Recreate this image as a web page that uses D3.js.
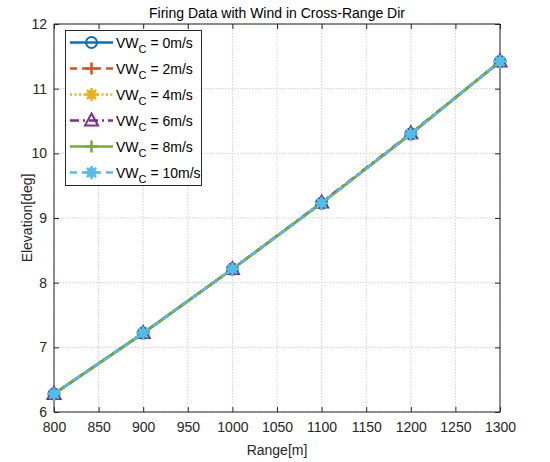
<!DOCTYPE html>
<html><head><meta charset="utf-8">
<script src="https://cdn.jsdelivr.net/npm/d3@7"></script>
<style>body{margin:0;background:#fff}svg{display:block;font-family:"Liberation Sans",Arial,sans-serif}</style>
</head><body>
<svg id="c" width="550" height="462"></svg>
<script>
const ranges = [800, 900, 1000, 1100, 1200, 1300];
const windLabels = ["0", "2", "4", "6", "8", "10"];
const elev0 = [6.28, 7.22, 8.21, 9.23, 10.30, 11.42];
const elev2 = [6.28, 7.22, 8.21, 9.23, 10.30, 11.42];
const elev4 = [6.28, 7.22, 8.21, 9.23, 10.30, 11.42];
const elev6 = [6.28, 7.22, 8.21, 9.24, 10.31, 11.42];
const elev8 = [6.28, 7.22, 8.21, 9.23, 10.30, 11.42];
const elev10 = [6.28, 7.22, 8.21, 9.23, 10.30, 11.42];
const xTicks = [800,850,900,950,1000,1050,1100,1150,1200,1250,1300];
const yTicks = [6,7,8,9,10,11,12];

const series = [
 {vals: elev0, color:"#0072BD", dash:null, marker:"circle"},
 {vals: elev2, color:"#D95319", dash:"7,5", marker:"plus"},
 {vals: elev4, color:"#EDB120", dash:"2,2.5", marker:"star"},
 {vals: elev6, color:"#7E2F8E", dash:"9,4,2,4", marker:"triangle"},
 {vals: elev8, color:"#77AC30", dash:null, marker:"plus"},
 {vals: elev10, color:"#4DBEEE", dash:"7,5", marker:"starfill"},
];

const svg = d3.select("#c");
const L=54, R=500, T=24, B=412;
const x = d3.scaleLinear().domain([800,1300]).range([L,R]);
const y = d3.scaleLinear().domain([6,12]).range([B,T]);

// grid
const g = svg.append("g");
xTicks.forEach(t=>g.append("line").attr("x1",x(t)).attr("x2",x(t)).attr("y1",T).attr("y2",B)
  .attr("stroke","#d0d0d0").attr("stroke-width",1).attr("stroke-dasharray","1.5,1.5"));
yTicks.forEach(t=>g.append("line").attr("x1",L).attr("x2",R).attr("y1",y(t)).attr("y2",y(t))
  .attr("stroke","#d0d0d0").attr("stroke-width",1).attr("stroke-dasharray","1.5,1.5"));

// axes
const fs = "14px";
const xa = svg.append("g").attr("transform",`translate(0,${B})`)
  .call(d3.axisBottom(x).tickValues(xTicks).tickSize(-5).tickPadding(10).tickFormat(d3.format("d")));
const xt = svg.append("g").attr("transform",`translate(0,${T})`)
  .call(d3.axisTop(x).tickValues(xTicks).tickSize(-5).tickFormat(""));
const ya = svg.append("g").attr("transform",`translate(${L},0)`)
  .call(d3.axisLeft(y).tickValues(yTicks).tickSize(-5).tickPadding(7).tickFormat(d3.format("d")));
const yr = svg.append("g").attr("transform",`translate(${R},0)`)
  .call(d3.axisRight(y).tickValues(yTicks).tickSize(-5).tickFormat(""));
[xa,xt,ya,yr].forEach(a=>{
  a.selectAll("path").attr("stroke","#262626").attr("stroke-width",1);
  a.selectAll("line").attr("stroke","#262626");
  a.selectAll("text").attr("fill","#262626").style("font-size",fs).style("font-family","'Liberation Sans',Arial,sans-serif");
});
xa.selectAll("path").attr("d",`M${L},0H${R}`);
xt.selectAll("path").attr("d",`M${L},0H${R}`);
ya.selectAll("path").attr("d",`M0,${T}V${B}`);
yr.selectAll("path").attr("d",`M0,${T}V${B}`);

// labels
svg.append("text").attr("x",277).attr("y",18).attr("text-anchor","middle")
  .style("font-size","14px").attr("fill","#000").text("Firing Data with Wind in Cross-Range Dir");
svg.append("text").attr("x",277).attr("y",455).attr("text-anchor","middle")
  .style("font-size","14px").attr("fill","#262626").text("Range[m]");
svg.append("text").attr("transform",`translate(32,${(T+B)/2}) rotate(-90)`).attr("text-anchor","middle")
  .style("font-size","14px").attr("fill","#262626").text("Elevation[deg]");

function drawMarker(sel, type, color, cx, cy){
  const gg = sel.append("g").attr("transform",`translate(${cx},${cy})`);
  if(type==="circle"){
    gg.append("circle").attr("r",5.5).attr("fill","none").attr("stroke",color).attr("stroke-width",2);
  } else if(type==="plus"){
    gg.append("path").attr("d","M-6,0H6M0,-6V6").attr("stroke",color).attr("stroke-width",2.5);
  } else if(type==="star" || type==="starfill"){
    gg.append("circle").attr("r",4.5).attr("fill",color);
    gg.append("path").attr("d","M-6.5,0H6.5M0,-6.5V6.5M-4.6,-4.6L4.6,4.6M-4.6,4.6L4.6,-4.6").attr("stroke",color).attr("stroke-width",2.5);
  } else if(type==="triangle"){
    gg.append("path").attr("d","M0,-7L6.5,5H-6.5Z").attr("fill","none").attr("stroke",color).attr("stroke-width",2);
  }
}

const line = d3.line().x((d,i)=>x(ranges[i])).y(d=>y(d));
series.forEach(s=>{
  const gg = svg.append("g");
  gg.append("path").datum(s.vals).attr("d",line).attr("fill","none").attr("stroke",s.color)
    .attr("stroke-width",2.5).attr("stroke-dasharray",s.dash);
  s.vals.forEach((v,i)=>drawMarker(gg,s.marker,s.color,x(ranges[i]),y(v)));
});

// legend
const lg = svg.append("g");
lg.append("rect").attr("x",65.5).attr("y",30.5).attr("width",136).attr("height",155)
  .attr("fill","#fff").attr("stroke","#262626").attr("stroke-width",1);
series.forEach((s,i)=>{
  const cy = 42.5 + i*26;
  lg.append("line").attr("x1",70).attr("x2",113).attr("y1",cy).attr("y2",cy)
    .attr("stroke",s.color).attr("stroke-width",2.5).attr("stroke-dasharray",s.dash);
  drawMarker(lg,s.marker,s.color,91.5,cy);
  const t = lg.append("text").attr("x",116).attr("y",cy+5).style("font-size","14px").attr("fill","#000");
  t.append("tspan").text("VW");
  t.append("tspan").attr("dy",5).style("font-size","11px").text("C");
  t.append("tspan").attr("dy",-5).text(" = " + windLabels[i] + "m/s");
});
</script>
</body></html>
